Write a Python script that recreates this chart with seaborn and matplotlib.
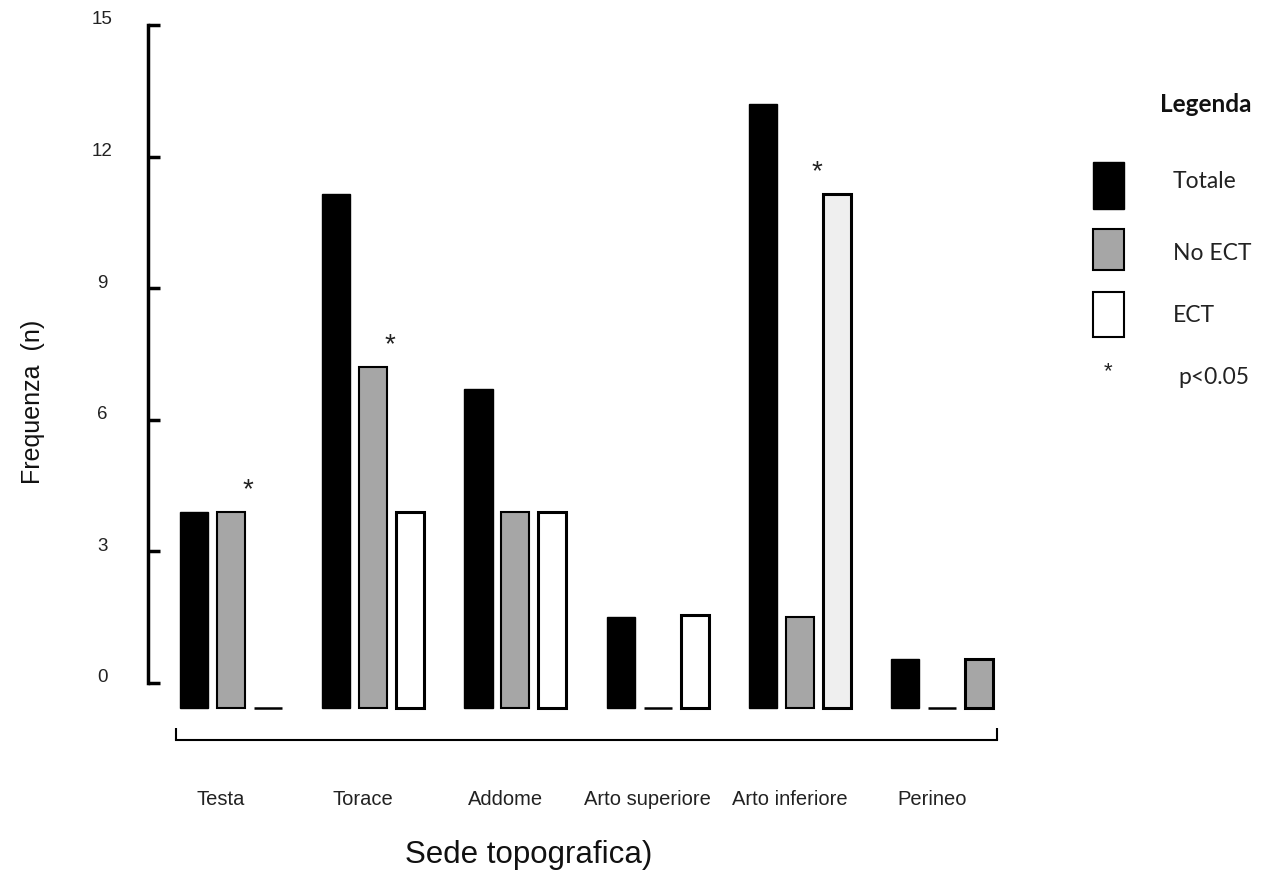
import numpy as np
import pandas as pd
import matplotlib
matplotlib.use("Agg")
import matplotlib.pyplot as plt
from matplotlib.patches import Rectangle
from matplotlib.transforms import ScaledTranslation
import seaborn as sns

# ---- data -------------------------------------------------------------
sites = ["Testa", "Torace", "Addome", "Arto superiore", "Arto inferiore", "Perineo"]
groups = ["Totale", "No ECT", "ECT"]
totale = [3.9, 11.15, 6.7, 1.5, 13.2, 0.55]
no_ect = [3.9, 7.2, 3.9, 0.0, 1.5, 0.0]
ect = [0.0, 3.9, 3.9, 1.55, 11.15, 0.55]
significant = [True, True, False, False, True, False]
y_ticks = [0, 3, 6, 9, 12, 15]

# ---- style ------------------------------------------------------------
BASE = -0.57                      # bars hang slightly below the zero line
GREY = "#a6a6a6"
palette = {"Totale": "black", "No ECT": GREY, "ECT": "white"}
ect_fill = ["white", "white", "white", "white", "#efefef", GREY]
edge_width = {"Totale": 1.0, "No ECT": 1.5, "ECT": 2.2}

sns.set_theme(style="white")
plt.rcParams["font.family"] = ["Liberation Sans", "DejaVu Sans"]

W, H = 1261, 882
fig = plt.figure(figsize=(W / 100, H / 100), dpi=100)
ax = fig.add_axes([148 / W, (H - 740) / H, (1010 - 148) / W, (740 - 25) / H])

df = pd.DataFrame({
    "Sede": sites * 3,
    "Gruppo": np.repeat(groups, len(sites)),
    "n": totale + no_ect + ect,
})

sns.barplot(data=df, x="Sede", y="n", hue="Gruppo", order=sites,
            hue_order=groups, palette=palette, saturation=1, width=0.78,
            gap=0.24, edgecolor="black", errorbar=None, legend=False, ax=ax)

# bars start from the common baseline; empty cells become a flat dash
for container, grp in zip(ax.containers, groups):
    bars = sorted(container.patches, key=lambda p: p.get_x())
    for i, bar in enumerate(bars):
        h = bar.get_height()
        bar.set_y(BASE)
        if h == 0:
            bar.set_height(0)
            bar.set_linewidth(1.8)
        else:
            bar.set_height(h - BASE)
            bar.set_linewidth(edge_width[grp])
        if grp == "ECT":
            bar.set_facecolor(ect_fill[i])

# significance marks
for i, sig in enumerate(significant):
    if sig:
        ax.text(i + 0.12, max(no_ect[i], ect[i]) + 0.2, "*", ha="center",
                va="bottom", fontsize=20, color="#222222")

# ---- axes -------------------------------------------------------------
ax.set_xlim(-0.584, 5.478)
ax.set_ylim(-1.3, 15)
ax.set_yticks(y_ticks)
ax.set_yticklabels([str(t) for t in y_ticks])
ax.set_xlabel("")
ax.set_ylabel("")

for side in ["top", "right"]:
    ax.spines[side].set_visible(False)
ax.spines["left"].set_bounds(0, 15)
ax.spines["left"].set_linewidth(2.5)
ax.spines["left"].set_color("black")
ax.spines["bottom"].set_bounds(-0.39, len(sites) - 1 + 0.39)
ax.spines["bottom"].set_linewidth(1.5)
ax.spines["bottom"].set_color("black")

ax.tick_params(axis="y", direction="in", length=8.6, width=2.5, color="black",
               pad=33, labelsize=13.5, labelcolor="#222222", left=True)
for lab in ax.get_yticklabels():
    lab.set_horizontalalignment("center")
    lab.set_transform(lab.get_transform() + ScaledTranslation(0, 0.07, fig.dpi_scale_trans))

ax.tick_params(axis="x", which="major", length=0, pad=36, labelsize=14.5,
               labelcolor="#222222")
for lab in ax.get_xticklabels():
    lab.set_transform(lab.get_transform() + ScaledTranslation(-0.10, 0, fig.dpi_scale_trans))
ax.set_xticks([-0.39, len(sites) - 1 + 0.39], minor=True)
ax.tick_params(axis="x", which="minor", direction="in", length=8.6, width=1.5,
               color="black", bottom=True)

fig.text(33 / W, 1 - 402 / H, "Frequenza  (n)", rotation=90, ha="center",
         va="center", fontsize=18, color="#111111")
fig.text(529 / W, 1 - 855 / H, "Sede topografica)", ha="center", va="center",
         fontsize=22.5, color="#111111")

# ---- legend -----------------------------------------------------------
def px(x, y):
    return x / W, 1 - y / H

legend_font = ["Lato", "DejaVu Sans"]
fig.text(*px(1160, 105), "Legenda", ha="left", va="center", fontsize=17.5,
         fontweight="bold", family=legend_font, color="#111111")
boxes = [((1093, 162, 1124, 209), "black", 1.0, "Totale", 182),
         ((1093, 229, 1124, 270), GREY, 1.5, "No ECT", 253),
         ((1093, 292, 1124, 337), "white", 1.5, "ECT", 315)]
for (x0, y0, x1, y1), fc, lw, label, ty in boxes:
    fig.add_artist(Rectangle(px(x0, y1), (x1 - x0) / W, (y1 - y0) / H,
                             facecolor=fc, edgecolor="black", linewidth=lw,
                             transform=fig.transFigure))
    fig.text(*px(1173, ty), label, ha="left", va="center", fontsize=16.5,
             family=legend_font, color="#222222")
fig.text(*px(1108, 372), "*", ha="center", va="center", fontsize=16,
         color="#222222")
fig.text(*px(1178, 377), "p<0.05", ha="left", va="center", fontsize=16.5,
         family=legend_font, color="#222222")

fig.savefig("out.png", dpi=100, facecolor="white")
